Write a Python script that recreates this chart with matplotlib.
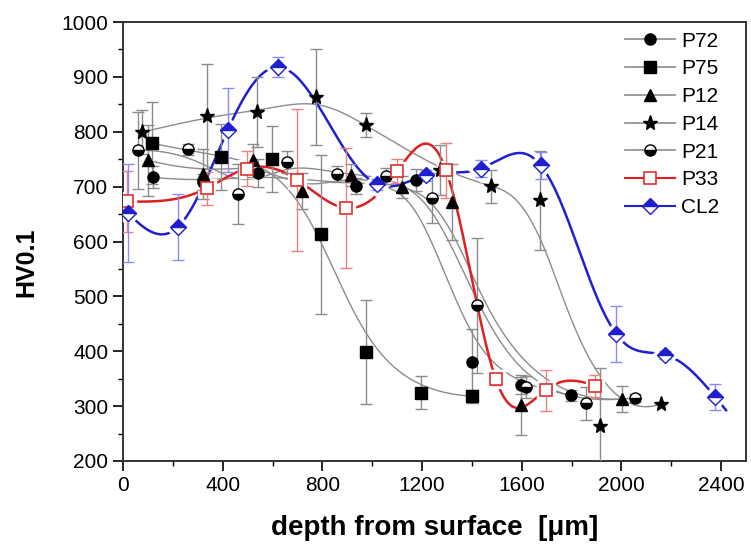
import numpy as np
import matplotlib
matplotlib.use("Agg")
import matplotlib.pyplot as plt
from matplotlib.lines import Line2D
from matplotlib.ticker import MultipleLocator

plt.rcParams['font.family'] = ['Liberation Sans', 'DejaVu Sans']

# values (depth in um, HV0.1, error)
p72_x = [120, 320, 540, 936, 1176, 1400, 1596, 1796]
p72_y = [717, 708, 725, 701, 712, 380, 338, 320]
p72_e = [20, 15, 25, 15, 20, 60, 15, 10]

p75_x = [116, 392, 596, 796, 976, 1196, 1400]
p75_y = [779, 754, 750, 613, 399, 324, 318]
p75_e = [75, 60, 60, 145, 95, 30, 12]

p12_x = [100, 320, 520, 720, 916, 1120, 1320, 1596, 2004]
p12_y = [748, 723, 748, 692, 721, 700, 672, 302, 313]
p12_e = [65, 45, 30, 32, 20, 20, 70, 55, 24]

p14_x = [76, 336, 536, 776, 976, 1272, 1476, 1672, 1916, 2160]
p14_y = [799, 828, 836, 863, 812, 730, 701, 675, 264, 304]
p14_e = [40, 95, 64, 88, 22, 45, 30, 90, 105, 0]

p21_x = [60, 260, 460, 660, 860, 1056, 1240, 1420, 1616, 1856, 2056]
p21_y = [766, 768, 686, 745, 723, 719, 679, 484, 335, 305, 315]
p21_e = [70, 10, 55, 20, 15, 15, 45, 123, 20, 30, 8]

p33_x = [16, 336, 496, 700, 896, 1100, 1296, 1496, 1696, 1896]
p33_y = [673, 697, 733, 712, 661, 728, 730, 349, 329, 337]
p33_e = [55, 30, 32, 130, 110, 22, 50, 10, 37, 20]

cl2_x = [20, 220, 420, 620, 1020, 1216, 1436, 1676, 1980, 2176, 2376]
cl2_y = [652, 626, 803, 918, 704, 721, 733, 739, 431, 393, 317]
cl2_e = [90, 60, 77, 18, 10, 10, 15, 25, 51, 8, 24]


def basis(u, t, deg):
    u = np.asarray(u, float)[:, None]
    B = ((u >= t[None, :-1]) & (u < t[None, 1:])).astype(float)
    for k in range(1, deg + 1):
        d1 = t[k:-1] - t[:-k - 1]
        d2 = t[k + 1:] - t[1:-k]
        left = np.where(d1 > 0, (u - t[None, :-k - 1]) / np.where(d1 > 0, d1, 1), 0)
        right = np.where(d2 > 0, (t[None, k + 1:] - u) / np.where(d2 > 0, d2, 1), 0)
        B = left * B[:, :-1] + right * B[:, 1:]
    return B


def bspline(xs, ys, deg=3):
    # data points used as control points (origin "B-spline" line)
    m = len(xs)
    t = np.r_[[0] * (deg + 1), np.arange(1, m - deg), [m - deg] * (deg + 1)].astype(float)
    u = np.linspace(0, m - deg, 400)
    u[-1] -= 1e-9
    B = basis(u, t, deg)
    return B @ np.asarray(xs, float), B @ np.asarray(ys, float)


def spline(xs, ys, x1=None, lam=0.002, nseg=24):
    # smooth curve through the points
    x0 = min(xs)
    x1 = max(xs) if x1 is None else x1
    dx = (x1 - x0 + 2) / nseg
    t = x0 - 1 + dx * np.arange(-3, nseg + 4)
    B = basis(xs, t, 3)
    D = np.diff(np.eye(B.shape[1]), 2, axis=0)
    a = np.linalg.solve(B.T @ B + lam * D.T @ D, B.T @ np.asarray(ys, float))
    xg = np.linspace(x0, x1, 400)
    return xg, basis(xg, t, 3) @ a


fig = plt.figure(figsize=(7.51, 5.45), dpi=100)
ax = fig.add_axes([123 / 751, 1 - 461 / 545, 623 / 751, 439 / 545])

gray = '#8c8c8c'
blk = dict(markerfacecolor='black', markeredgecolor='black')
series = [
    ('P72', p72_x, p72_y, p72_e, dict(marker='o', **blk), gray, gray, 1.0),
    ('P75', p75_x, p75_y, p75_e, dict(marker='s', **blk), gray, gray, 1.0),
    ('P12', p12_x, p12_y, p12_e, dict(marker='^', **blk), gray, gray, 1.0),
    ('P14', p14_x, p14_y, p14_e, dict(marker='*', markersize=11, **blk), gray, gray, 1.0),
    ('P21', p21_x, p21_y, p21_e, dict(marker='o', markerfacecolor='black', markerfacecoloralt='white',
                                      fillstyle='bottom', markeredgecolor='black'), gray, gray, 1.0),
    ('P33', p33_x, p33_y, p33_e, dict(marker='s', markerfacecolor='white', markeredgecolor='#e03030',
                                      markeredgewidth=1.2), '#e02020', '#f08080', 1.8),
    ('CL2', cl2_x, cl2_y, cl2_e, dict(marker='D', markerfacecolor='#1f1fd0', markerfacecoloralt='white',
                                      fillstyle='top', markeredgecolor='#1f1fd0'), '#2020d0', '#8a8aff', 1.8),
]

handles = []
for z, (name, xs, ys, es, mk, lc, ec, lw) in enumerate(series):
    if name == 'CL2':
        xg, yg = spline(xs, ys, x1=2420)
    elif name == 'P33':
        xg, yg = spline(xs, ys)
    else:
        xg, yg = bspline(xs, ys)
    ax.plot(xg, yg, color=lc, lw=lw, zorder=2 + z * 0.1)
    ax.errorbar(xs, ys, yerr=es, fmt='none', ecolor=ec, elinewidth=1.0, capsize=4, capthick=1.0, zorder=3)
    mk = dict(mk)
    ms = mk.pop('markersize', 8)
    if lw > 1.5:
        ax.plot(xs, ys, linestyle='none', marker=mk['marker'], markersize=ms + 5,
                color='white', zorder=2.9)
    ax.plot(xs, ys, linestyle='none', markersize=ms, zorder=5 + z * 0.1, **mk)
    handles.append(Line2D([], [], color=lc, lw=1.2 if lw < 1.5 else 1.5, markersize=ms, **mk))

ax.set_xlim(0, 2500)
ax.set_ylim(200, 1000)
ax.xaxis.set_major_locator(MultipleLocator(400))
ax.xaxis.set_minor_locator(MultipleLocator(200))
ax.yaxis.set_major_locator(MultipleLocator(100))
ax.yaxis.set_minor_locator(MultipleLocator(50))
ax.tick_params(which='major', direction='out', length=7, width=1.2, labelsize=15, top=False, right=False)
ax.tick_params(which='minor', direction='out', length=3.5, width=1.0, top=False, right=False)
for s in ax.spines.values():
    s.set_linewidth(1.4)
    s.set_color('#333333')

ax.set_xlabel('depth from surface  [\u03bcm]', fontsize=20, fontweight='bold', labelpad=15)
ax.set_ylabel('HV0.1', fontsize=18, fontweight='bold')
ax.yaxis.set_label_coords(-0.136, 0.453)

ax.legend(handles, [s[0] for s in series], loc='upper left', bbox_to_anchor=(0.806, 0.978),
          frameon=False, fontsize=15, handlelength=2.4, handletextpad=0.3, labelspacing=0.42,
          borderpad=0, borderaxespad=0)

fig.savefig('out.png', dpi=100)
